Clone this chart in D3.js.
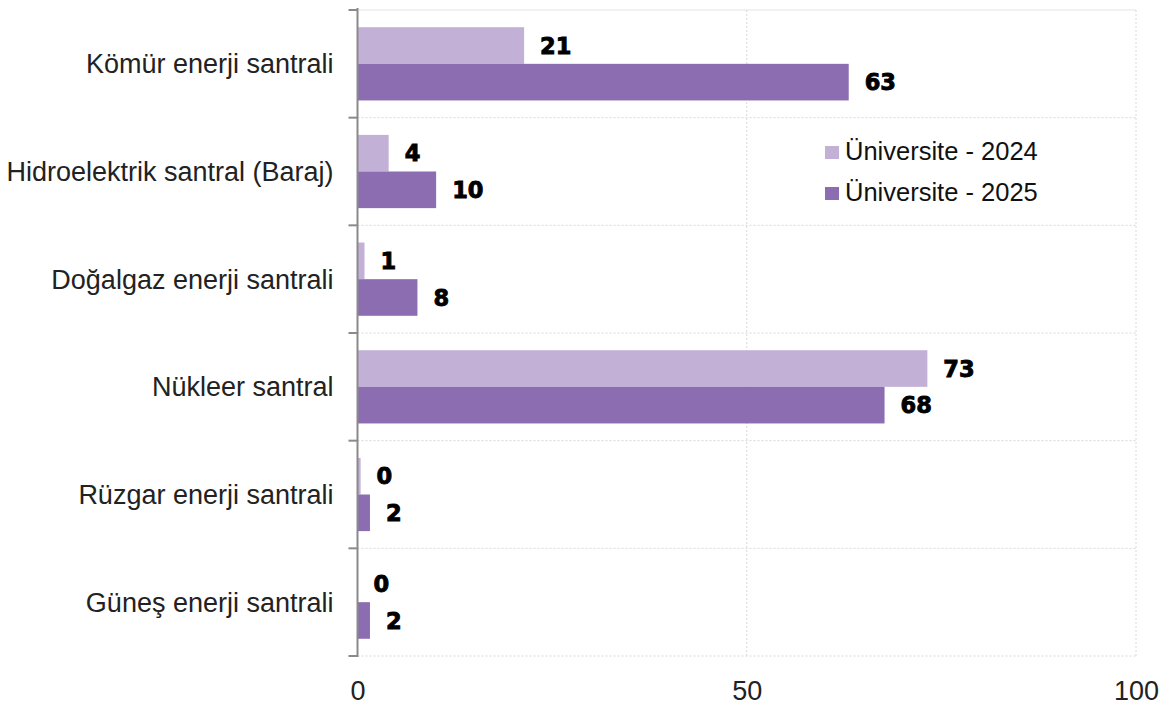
<!DOCTYPE html>
<html><head><meta charset="utf-8">
<script src="https://cdn.jsdelivr.net/npm/d3@7"></script>
<style>body{margin:0;background:#fff}svg{display:block}</style>
</head><body>
<script>
const categories = ["Kömür enerji santrali","Hidroelektrik santral (Baraj)","Doğalgaz enerji santrali","Nükleer santral","Rüzgar enerji santrali","Güneş enerji santrali"];
const seriesNames = ["Üniversite - 2024","Üniversite - 2025"];
const values2024 = [21.4, 4.0, 0.9, 73.2, 0.4, 0];
const values2025 = [63.1, 10.1, 7.7, 67.7, 1.6, 1.6];
const xTicks = [0, 50, 100];
const colors = ["#c2b0d7", "#8c6db1"];

const W = 1174, H = 706;
const svg = d3.select("body").append("svg").attr("width", W).attr("height", H);
const x = d3.scaleLinear().domain([0, 100]).range([357.5, 1136]);
const y = d3.scaleBand().domain(categories).range([10, 656]).padding(0);
const inner = d3.scaleBand().domain(seriesNames).range([0, y.bandwidth()]).paddingInner(0).paddingOuter(0.47);

const data = categories.map((c, i) => ({cat: c, vals: [values2024[i], values2025[i]]}));

// gridlines
const bounds = categories.map(c => y(c)).concat([y.range()[1]]);
svg.append("g").selectAll("line").data(bounds).join("line")
  .attr("x1", x(0)).attr("x2", x(100)).attr("y1", d => d).attr("y2", d => d)
  .attr("stroke", (d, i) => i === 0 ? "#e3e3e3" : "#d8d8d8")
  .attr("stroke-width", 1)
  .attr("stroke-dasharray", (d, i) => i === 0 ? null : "2,2");
svg.append("g").selectAll("line").data(xTicks.slice(1)).join("line")
  .attr("x1", d => x(d)).attr("x2", d => x(d)).attr("y1", 10).attr("y2", 656)
  .attr("stroke", "#d8d8d8").attr("stroke-dasharray", "2,2");

// bars
const g = svg.append("g").selectAll("g").data(data).join("g")
  .attr("transform", d => `translate(0,${y(d.cat)})`);
g.selectAll("rect").data(d => d.vals.map((v, k) => ({v, k}))).join("rect")
  .attr("x", x(0)).attr("y", d => inner(seriesNames[d.k]))
  .attr("width", d => x(d.v) - x(0)).attr("height", inner.bandwidth())
  .attr("fill", d => colors[d.k]);
g.selectAll("text.val").data(d => d.vals.map((v, k) => ({v, k}))).join("text")
  .attr("class", "val")
  .attr("x", d => x(d.v) + 16).attr("y", d => inner(seriesNames[d.k]) + inner.bandwidth() / 2)
  .attr("dy", "0.36em")
  .style("font-family", "'DejaVu Sans', sans-serif").style("font-weight", "bold").style("font-size", "22.5px")
  .attr("fill", "#000").attr("stroke", "#000").attr("stroke-width", 0.9)
  .text(d => Math.round(d.v));

// y axis line and ticks
svg.append("line").attr("x1", x(0)).attr("x2", x(0)).attr("y1", 8).attr("y2", 657)
  .attr("stroke", "#8a8a8a").attr("stroke-width", 2);
svg.append("g").selectAll("line").data(bounds).join("line")
  .attr("x1", x(0) - 9).attr("x2", x(0)).attr("y1", d => d).attr("y2", d => d)
  .attr("stroke", "#8a8a8a").attr("stroke-width", 2);

// category labels
svg.append("g").selectAll("text").data(categories).join("text")
  .attr("x", x(0) - 24).attr("y", d => y(d) + y.bandwidth() / 2)
  .attr("dy", "0.35em").attr("text-anchor", "end")
  .style("font-family", "'Liberation Sans', Arial, sans-serif").style("font-size", "27px")
  .attr("fill", "#222").text(d => d);

// x axis labels
const xa = svg.append("g").attr("transform", "translate(0,700)")
  .call(d3.axisBottom(x).tickValues(xTicks).tickSize(0).tickPadding(0).tickFormat(d3.format("d")));
xa.select(".domain").remove();
xa.selectAll("text").attr("y", 0).attr("dy", 0)
  .style("font-family", "'Liberation Sans', Arial, sans-serif").style("font-size", "27px").attr("fill", "#222");

// legend
const lg = svg.append("g").selectAll("g").data(seriesNames).join("g")
  .attr("transform", (d, i) => `translate(825,${146 + i * 41})`);
lg.append("rect").attr("width", 14).attr("height", 13).attr("fill", (d, i) => colors[i]);
lg.append("text").attr("x", 20).attr("y", 13.5)
  .style("font-family", "'Liberation Sans', Arial, sans-serif").style("font-size", "25.5px")
  .attr("fill", "#111").text(d => d);
</script>
</body></html>
